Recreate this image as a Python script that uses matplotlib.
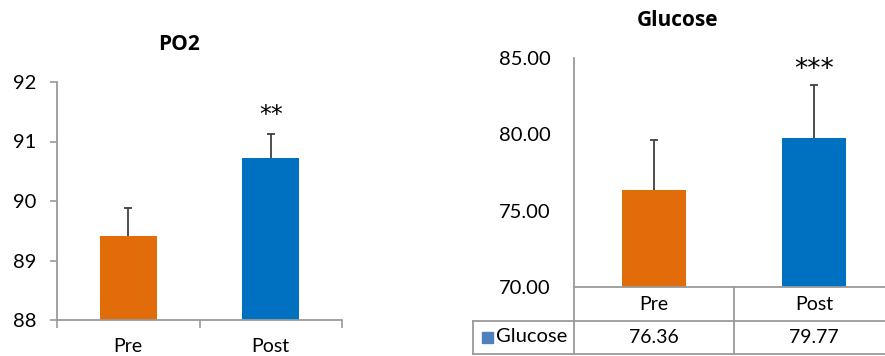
import matplotlib
matplotlib.use("Agg")
import matplotlib.pyplot as plt
from matplotlib.patches import Rectangle

plt.rcParams['font.family'] = ['Lato', 'DejaVu Sans']

categories = ["Pre", "Post"]
po2_values = [89.42, 90.73]
po2_errors = [0.46, 0.40]
po2_stars = ["", "**"]
glucose_values = [76.36, 79.77]
glucose_errors = [3.27, 3.46]
glucose_stars = ["", "***"]
glucose_labels = ["76.36", "79.77"]
series_name = "Glucose"

bar_colors = ["#E36C0A", "#0070C0"]
axis_gray = "#9A9A9A"
err_color = "#404040"

W, H = 885, 356
fig = plt.figure(figsize=(W / 100, H / 100), dpi=100)

def fx(px):
    return px / W

def fy(py):
    return 1 - py / H

x = list(range(len(categories)))

# ---------------- Left chart: PO2 ----------------
ax1 = fig.add_axes([fx(57), fy(320), fx(342) - fx(57), fy(82) - fy(320)])
ax1.bar(x, po2_values, width=0.4, color=bar_colors, zorder=2)
ax1.errorbar(x, po2_values, yerr=po2_errors, fmt='none',
             ecolor=err_color, elinewidth=1.3, capsize=3, capthick=1.3, zorder=1)
ax1.set_xlim(-0.5, len(x) - 0.5)
ax1.set_ylim(88, 92)
ax1.set_yticks([88, 89, 90, 91, 92])
ax1.set_xticks([i - 0.5 for i in range(len(x) + 1)])
ax1.set_xticklabels([])
ax1.set_xticks(x, minor=True)
ax1.set_xticklabels(categories, minor=True)
ax1.tick_params(axis='x', which='major', direction='out', length=6, color=axis_gray, width=1.2)
ax1.tick_params(axis='x', which='minor', length=0, pad=13, labelsize=14)
ax1.tick_params(axis='y', direction='out', length=5, color=axis_gray, width=1.2, labelsize=14.5, pad=10)
for s in ['top', 'right']:
    ax1.spines[s].set_visible(False)
for s in ['left', 'bottom']:
    ax1.spines[s].set_color(axis_gray)
    ax1.spines[s].set_linewidth(1.3)
    ax1.spines[s].set_zorder(3)
for i, st in enumerate(po2_stars):
    if st:
        ax1.text(i, po2_values[i] + po2_errors[i] + 0.31, st, ha='center', va='center',
                 fontsize=17, family='DejaVu Sans')
fig.text(fx(179), fy(44), "PO2", ha='center', va='center', fontsize=15,
         fontweight='bold', family='Open Sans')

# ---------------- Right chart: Glucose ----------------
ax2 = fig.add_axes([fx(574), fy(287), fx(894) - fx(574), fy(58) - fy(287)])
ax2.bar(x, glucose_values, width=0.4, color=bar_colors, zorder=2)
ax2.errorbar(x, glucose_values, yerr=glucose_errors, fmt='none',
             ecolor=err_color, elinewidth=1.3, capsize=3, capthick=1.3, zorder=1)
ax2.set_xlim(-0.5, len(x) - 0.5)
ax2.set_ylim(70, 85)
ax2.set_yticks([70, 75, 80, 85])
ax2.set_yticklabels([f"{v:.2f}" for v in [70, 75, 80, 85]])
ax2.set_xticks([])
ax2.tick_params(axis='y', length=0, labelsize=14.5, pad=17)
for s in ['top', 'right', 'bottom']:
    ax2.spines[s].set_visible(False)
ax2.spines['left'].set_color(axis_gray)
ax2.spines['left'].set_linewidth(1.3)
for i, st in enumerate(glucose_stars):
    if st:
        ax2.text(i, glucose_values[i] + glucose_errors[i] + 0.98, st, ha='center', va='center',
                 fontsize=19, family='DejaVu Sans')
fig.text(fx(678), fy(20), "Glucose", ha='center', va='center', fontsize=15,
         fontweight='bold', family='Open Sans')

# data table under the right chart
tr = ax2.get_xaxis_transform()
row1_top, row1_bot = 0.0, -(321 - 287) / 229
row2_bot = -(354 - 287) / 229
legend_left = -0.5 - (574 - 473) / 160
line_kw = dict(color=axis_gray, lw=1.3, transform=tr, clip_on=False)
n = len(x)
ax2.plot([-0.5, n - 0.5], [row1_top, row1_top], **line_kw)
ax2.plot([legend_left, n - 0.5], [row1_bot, row1_bot], **line_kw)
ax2.plot([legend_left, n - 0.5], [row2_bot, row2_bot], **line_kw)
ax2.plot([legend_left, legend_left], [row1_bot, row2_bot], **line_kw)
for b in range(n + 1):
    ax2.plot([b - 0.5, b - 0.5], [row1_top, row2_bot], **line_kw)
for i, c in enumerate(categories):
    ax2.text(i, (row1_top + row1_bot) / 2, c, transform=tr, ha='center', va='center', fontsize=14)
    ax2.text(i, (row1_bot + row2_bot) / 2, glucose_labels[i], transform=tr, ha='center',
             va='center', fontsize=14)
fig.patches.append(Rectangle((fx(482), fy(343)), fx(11), 11 / H, color="#4F81BD",
                             transform=fig.transFigure))
fig.text(fx(496), fy(337), series_name, ha='left', va='center', fontsize=14.5)

fig.savefig("out.png", dpi=100)
